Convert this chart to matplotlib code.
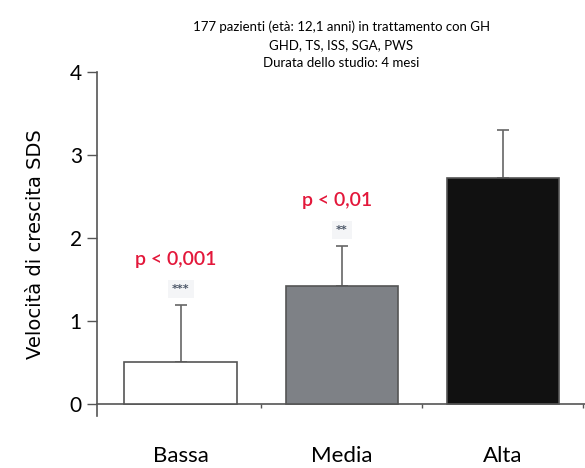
import numpy as np
import matplotlib
matplotlib.use("Agg")
import matplotlib.pyplot as plt

# ---- data ----
categories = ["Bassa", "Media", "Alta"]
means = [0.51, 1.43, 2.73]
sd_up = [0.69, 0.48, 0.57]
stars = ["***", "**", ""]
p_labels = ["p < 0,001", "p < 0,01", ""]
title_lines = ["177 pazienti (età: 12,1 anni) in trattamento con GH",
               "GHD, TS, ISS, SGA, PWS",
               "Durata dello studio: 4 mesi"]

bar_colors = ["white", "#7e8186", "#111111"]
narrow = ["Lato", "DejaVu Sans"]
axis_gray = "#555555"

fig = plt.figure(figsize=(5.85, 4.68), dpi=100)
ax = fig.add_axes([0.166, 0.111, 0.834, 0.735])

x = np.arange(len(categories))
ax.bar(x, means, width=0.70, color=bar_colors, edgecolor=axis_gray,
       linewidth=1.2, zorder=3)
ax.errorbar(x, means, yerr=[np.zeros(len(means)), sd_up], fmt="none",
            ecolor="#666666", elinewidth=1.2, capsize=4, capthick=1.2, zorder=2)

# significance labels
for i in range(len(categories)):
    if stars[i]:
        top = means[i] + sd_up[i]
        ax.text(x[i], top + 0.19, stars[i], ha="center", va="center",
                fontsize=8, color="#4a5566", fontweight="bold",
                bbox=dict(boxstyle="square,pad=0.35", fc="#f4f5f7", ec="none"))
        ax.text(x[i] - 0.03, top + 0.55, p_labels[i], ha="center", va="center",
                fontsize=14, color="#e3173a", family=narrow, fontweight="semibold")

# axes
ax.set_xlim(-0.52, 2.51)
ax.set_ylim(-0.14, 4.0)
ax.spines["top"].set_visible(False)
ax.spines["right"].set_visible(False)
ax.spines["bottom"].set_position(("data", 0))
for s in ["left", "bottom"]:
    ax.spines[s].set_color(axis_gray)
    ax.spines[s].set_linewidth(1.2)

ax.set_yticks([0, 1, 2, 3, 4])
ax.set_yticklabels(["0", "1", "2", "3", "4"], family=narrow, fontsize=15)
ax.tick_params(axis="y", direction="out", length=7, width=1, color=axis_gray, pad=4)

ax.set_xticks(x)
ax.set_xticklabels(categories, fontsize=16, family=narrow)
ax.tick_params(axis="x", length=0, pad=30)
ax.set_xticks([0.5, 1.5, 2.5], minor=True)
ax.tick_params(axis="x", which="minor", direction="out", length=3, width=1, color=axis_gray)

ax.set_ylabel("Velocità di crescita SDS", fontsize=14, labelpad=18)

for k, line in enumerate(title_lines):
    fig.text(0.583, 0.942 - k * 0.038, line, ha="center", va="center",
             fontsize=9.5, family=narrow)

fig.savefig("out.png", dpi=100)
